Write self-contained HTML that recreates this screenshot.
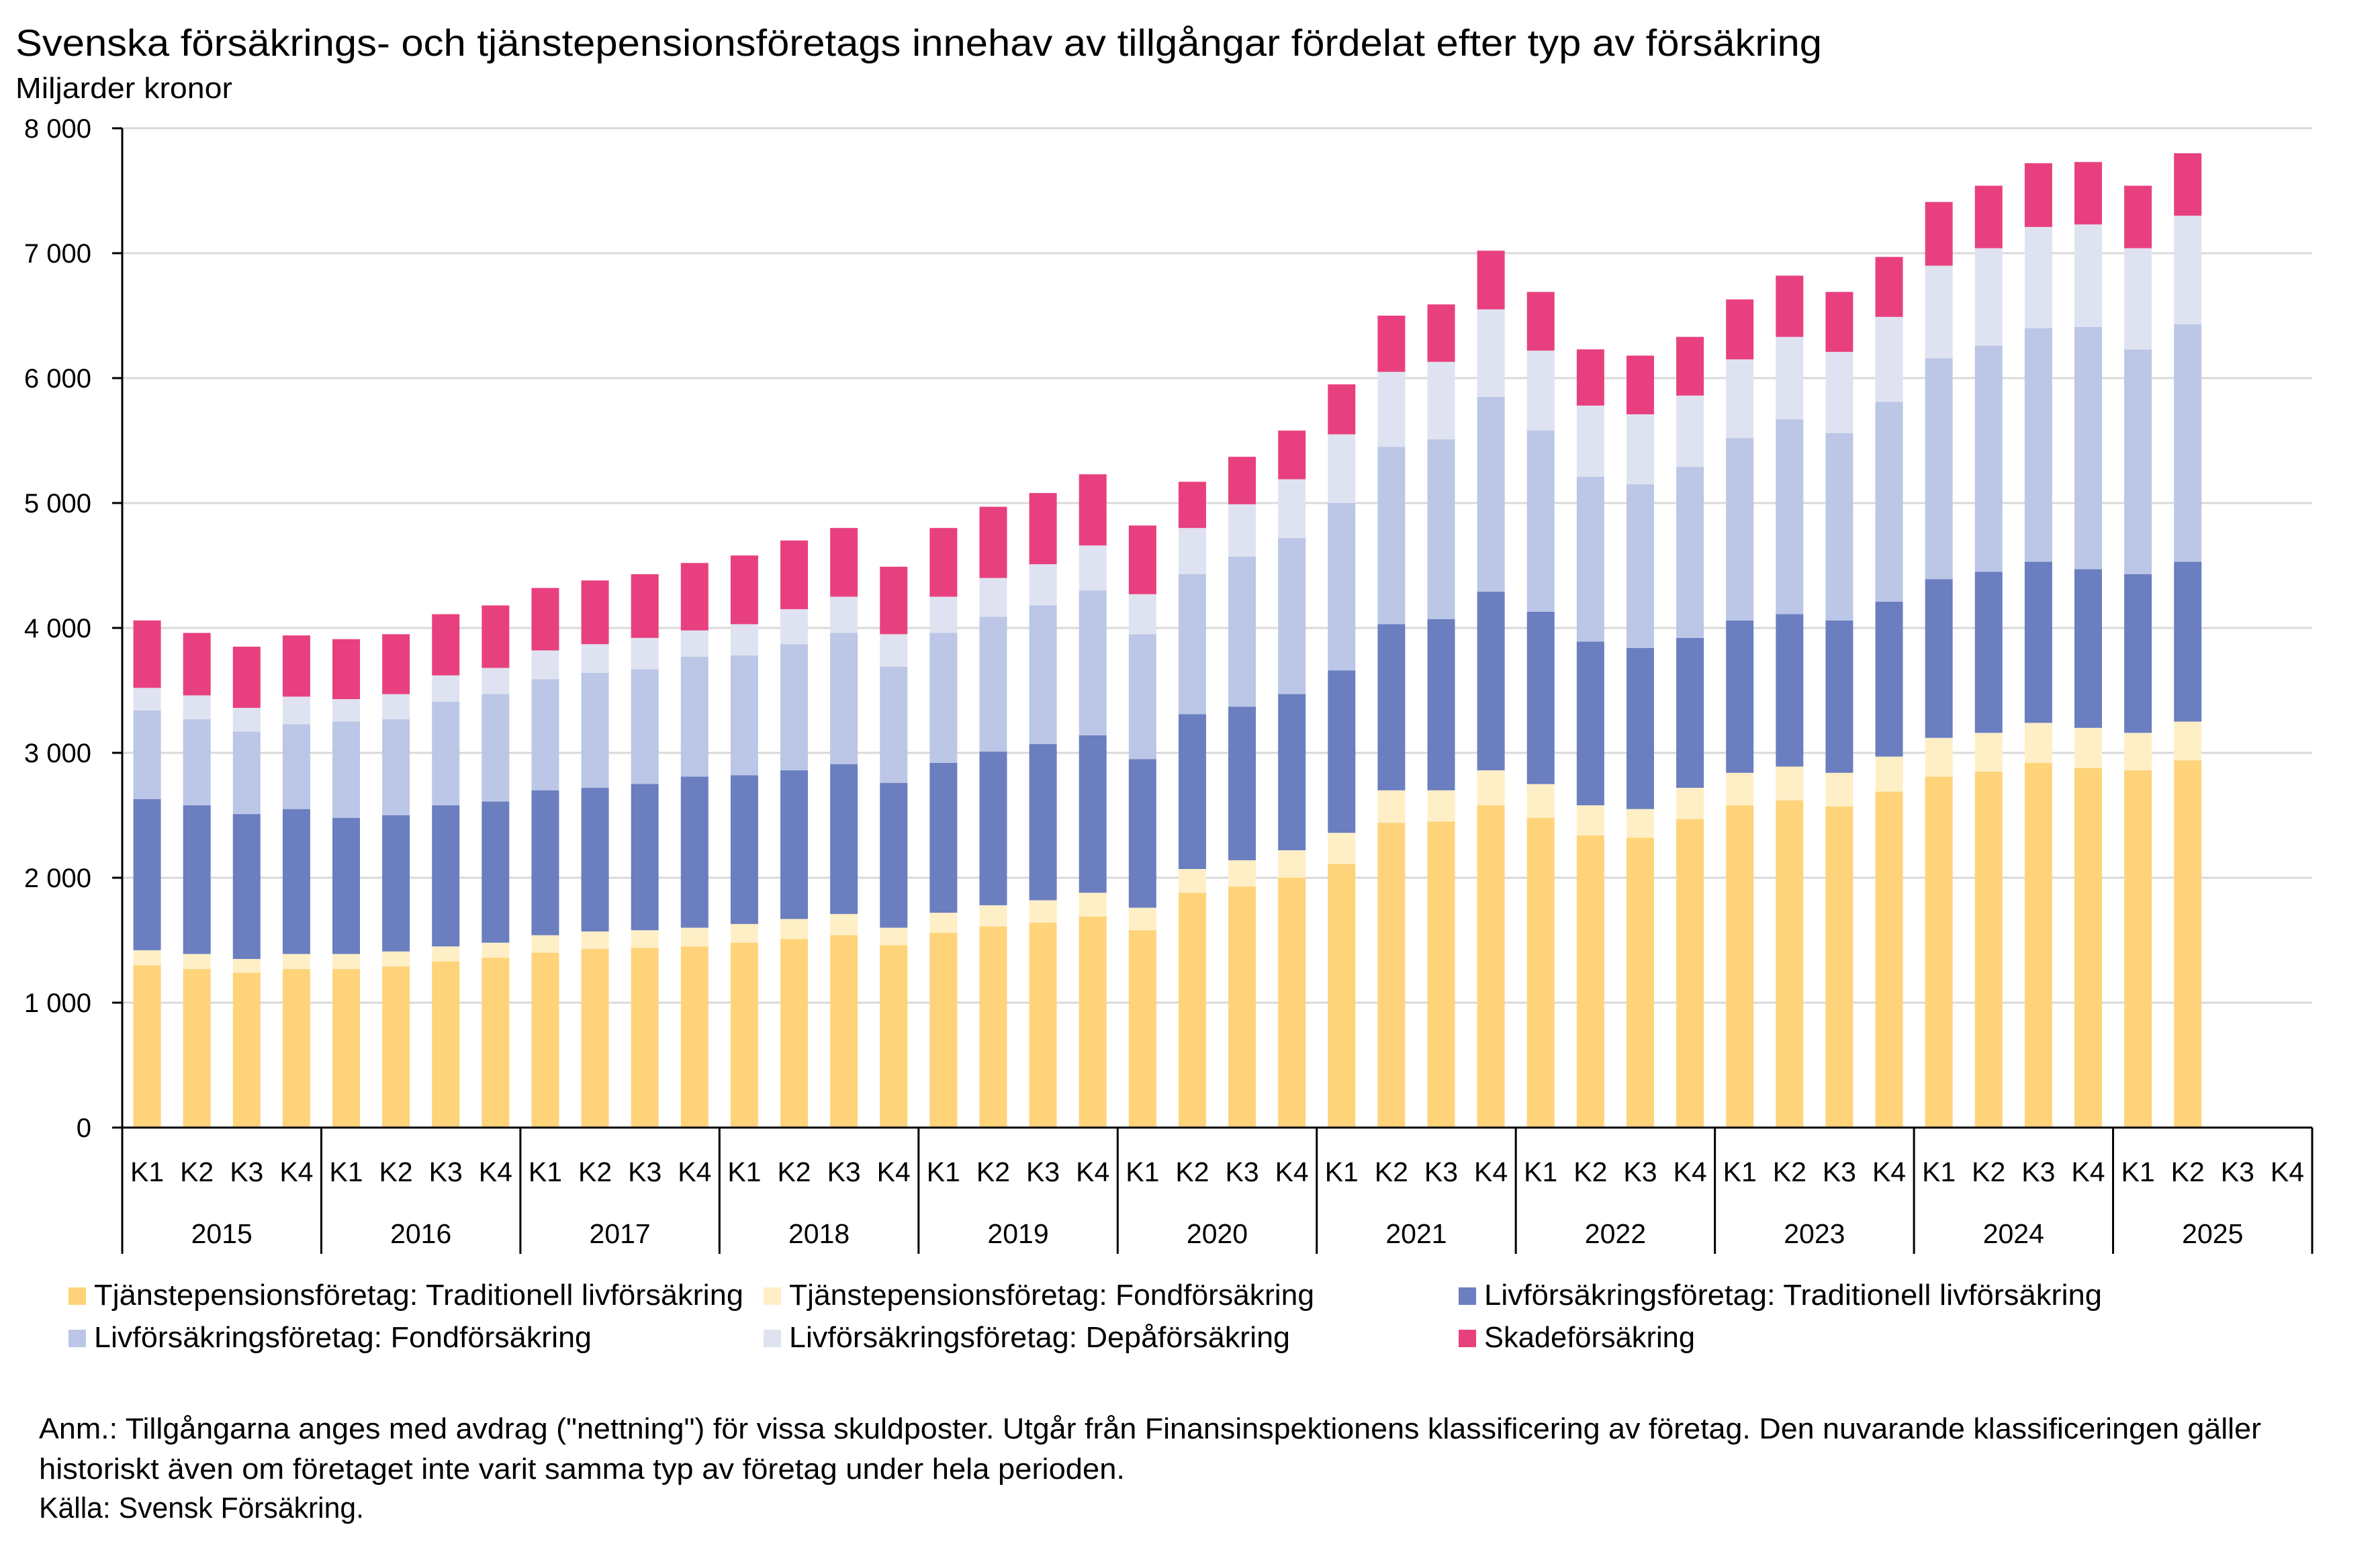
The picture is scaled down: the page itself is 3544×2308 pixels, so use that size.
<!DOCTYPE html>
<html><head><meta charset="utf-8"><style>
html,body{margin:0;padding:0;background:#fff;}
svg{display:block;font-family:"Liberation Sans",sans-serif;}
</style></head><body>
<svg id="chart" width="3544" height="2308" viewBox="0 0 3544 2308" xmlns="http://www.w3.org/2000/svg">
<rect width="3544" height="2308" fill="#fff"/>
<text x="23" y="83" font-size="56" textLength="2690" lengthAdjust="spacingAndGlyphs">Svenska försäkrings- och tjänstepensionsföretags innehav av tillgångar fördelat efter typ av försäkring</text>
<text x="23" y="146" font-size="44" textLength="323" lengthAdjust="spacingAndGlyphs">Miljarder kronor</text>
<g id="grid"></g>
<g id="bars"></g>
<g id="axes"></g>
<g id="legend"></g>
<g font-size="44">
<text x="58" y="2142" textLength="3309" lengthAdjust="spacingAndGlyphs">Anm.: Tillgångarna anges med avdrag ("nettning") för vissa skuldposter. Utgår från Finansinspektionens klassificering av företag. Den nuvarande  klassificeringen gäller</text>
<text x="58" y="2202" textLength="1617" lengthAdjust="spacingAndGlyphs">historiskt även om företaget inte varit samma typ av företag under hela perioden.</text>
<text x="58" y="2260" textLength="484" lengthAdjust="spacingAndGlyphs">Källa: Svensk Försäkring.</text>
</g>
</svg>
<script>
const years = ["2015","2016","2017","2018","2019","2020","2021","2022","2023","2024","2025"];
const quarters = ["K1","K2","K3","K4"];
const yTicks = [0,1000,2000,3000,4000,5000,6000,7000,8000];
const yTickLabels = ["0","1 000","2 000","3 000","4 000","5 000","6 000","7 000","8 000"];
const tjpTrad = [1300,1270,1240,1270, 1270,1290,1330,1360, 1400,1430,1440,1450, 1480,1510,1540,1460, 1560,1610,1640,1690, 1580,1880,1930,2000, 2110,2440,2450,2580, 2480,2340,2320,2470, 2580,2620,2570,2690, 2810,2850,2920,2880, 2860,2940];
const tjpFond = [120,120,110,120, 120,120,120,120, 140,140,140,150, 150,160,170,140, 160,170,180,190, 180,190,210,220, 250,260,250,280, 270,240,230,250, 260,270,270,280, 310,310,320,320, 300,310];
const livTrad = [1210,1190,1160,1160, 1090,1090,1130,1130, 1160,1150,1170,1210, 1190,1190,1200,1160, 1200,1230,1250,1260, 1190,1240,1230,1250, 1300,1330,1370,1430, 1380,1310,1290,1200, 1220,1220,1220,1240, 1270,1290,1290,1270, 1270,1280];
const livFond = [710,690,660,680, 770,770,830,860, 890,920,920,960, 960,1010,1050,930, 1040,1080,1110,1160, 1000,1120,1200,1250, 1340,1420,1440,1560, 1450,1320,1310,1370, 1460,1560,1500,1600, 1770,1810,1870,1940, 1800,1900];
const depa = [180,190,190,220, 180,200,210,210, 230,230,250,210, 250,280,290,260, 290,310,330,360, 320,370,420,470, 550,600,620,700, 640,570,560,570, 630,660,650,680, 740,780,810,820, 810,870];
const skade = [540,500,490,490, 480,480,490,500, 500,510,510,540, 550,550,550,540, 550,570,570,570, 550,370,380,390, 400,450,460,470, 470,450,470,470, 480,490,480,480, 510,500,510,500, 500,500];
const seriesNames = ["Tjänstepensionsföretag: Traditionell livförsäkring","Tjänstepensionsföretag: Fondförsäkring","Livförsäkringsföretag: Traditionell livförsäkring","Livförsäkringsföretag: Fondförsäkring","Livförsäkringsföretag: Depåförsäkring","Skadeförsäkring"];

const NS="http://www.w3.org/2000/svg";
const series=[tjpTrad,tjpFond,livTrad,livFond,depa,skade];
const colors=["#FFD37A","#FFEFC6","#6A7EC0","#BCC6E6","#DFE3F1","#E8407F"];
const keys=["tjp-trad","tjp-fond","liv-trad","liv-fond","depa","skade"];
const L=182,R=3443,Y0=1679,Y8=191,N=years.length*4;
const slot=(R-L)/N, bw=41;
const y=v=>Y0-(v/8000)*(Y0-Y8);
const x=i=>L+slot*i;
function mk(t,a,p){const e=document.createElementNS(NS,t);for(const k in a)e.setAttribute(k,a[k]);p.appendChild(e);return e;}
const grid=document.getElementById('grid'),bars=document.getElementById('bars'),axes=document.getElementById('axes'),leg=document.getElementById('legend');
yTicks.forEach((v,i)=>{
  if(v>0){const g=mk('line',{x1:L,x2:R,y1:y(v),y2:y(v),stroke:'#d9d9d9','stroke-width':3},grid);
  
  }
  const t=mk('line',{x1:167,x2:L,y1:y(v),y2:y(v),stroke:'#000','stroke-width':3},axes);
  
  
  const lb=mk('text',{x:136,y:y(v)+14,'font-size':40,'text-anchor':'end'},axes);
  lb.textContent=yTickLabels[i];
  
  
});
for(let i=0;i<tjpTrad.length;i++){
  let base=0;
  series.forEach((s,k)=>{
    const v=s[i];
    const r=mk('rect',{x:x(i)+(slot-bw)/2,y:y(base+v),width:bw,height:y(base)-y(base+v),fill:colors[k]},bars);
    
    
    base+=v;
  });
}
const ax=mk('line',{x1:L,x2:R,y1:Y0,y2:Y0,stroke:'#000','stroke-width':3},axes);


const ya=mk('line',{x1:L,x2:L,y1:Y8,y2:Y0,stroke:'#000','stroke-width':3},axes);


for(let yi=0;yi<=years.length;yi++){
  const s=mk('line',{x1:x(yi*4),x2:x(yi*4),y1:Y0,y2:1867,stroke:'#000','stroke-width':3},axes);
  
  
}
for(let i=0;i<N;i++){
  const t=mk('text',{x:x(i)+slot/2,y:1759,'font-size':41,'text-anchor':'middle'},axes);
  t.textContent=quarters[i%4];
  
  
}
years.forEach((yr,i)=>{
  const t=mk('text',{x:x(i*4)+slot*2,y:1851,'font-size':41,'text-anchor':'middle'},axes);
  t.textContent=yr;
  
  
});
const legPos=[[102,1917,1107],[1137,1917,1957],[2172,1917,3130],[102,1980,881],[1137,1980,1921],[2172,1980,2524]];
seriesNames.forEach((n,k)=>{
  const p=legPos[k];
  const g=mk('g',{},leg);
  
  
  mk('rect',{x:p[0],y:p[1],width:26,height:26,fill:colors[k]},g);
  const t=mk('text',{x:p[0]+38,y:p[1]+26,'font-size':44,textLength:p[2]-(p[0]+38),lengthAdjust:'spacingAndGlyphs'},g);
  t.textContent=n;
});
</script>
</body></html>
